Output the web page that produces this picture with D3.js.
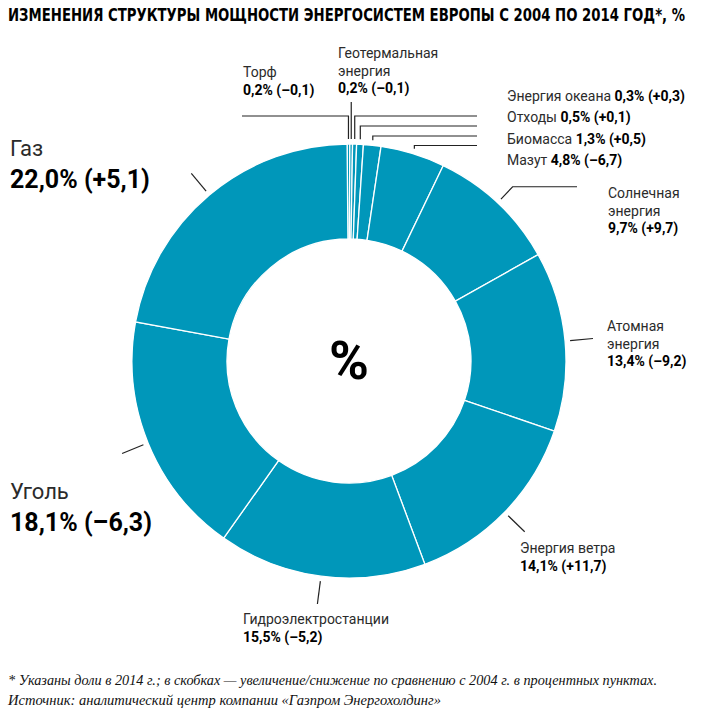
<!DOCTYPE html>
<html lang="ru">
<head>
<meta charset="UTF-8">
<script src="https://cdn.jsdelivr.net/npm/d3@7/dist/d3.min.js"></script>
<title>Структура мощности энергосистем Европы</title>
<style>
  body { margin: 0; background: #fff; }
  .name { font-family: Roboto, "Open Sans", sans-serif; fill: #2b2b2b; }
  .val { font-family: Roboto, "Open Sans", sans-serif; font-weight: bold; fill: #000; }
  .lead { fill: none; stroke: #222; stroke-width: 1.2px; }
</style>
</head>
<body>
<svg id="chart" width="713" height="714"></svg>
<script>
// данные: доли 2014 г. и изменение к 2004 г., п.п.
var sources = [
  ["Торф"], ["Геотермальная", "энергия"], ["Энергия океана"], ["Отходы"], ["Биомасса"], ["Мазут"],
  ["Солнечная", "энергия"], ["Атомная", "энергия"], ["Энергия ветра"], ["Гидроэлектростанции"],
  ["Уголь"], ["Газ"]
];
var share2014 = [0.2, 0.2, 0.3, 0.5, 1.3, 4.8, 9.7, 13.4, 14.1, 15.5, 18.1, 22.0];
var change = [-0.1, -0.1, 0.3, 0.1, 0.5, -6.7, 9.7, -9.2, 11.7, -5.2, -6.3, 5.1];

// где стоят подписи и как идут выноски
var labelLayout = [
  {x: 243, y: 77, lead: {kind: "top", y: 116, x2: 242}},
  {x: 338, y: 58.3, lead: {kind: "top", y: 102}},
  {x: 507, y: 100.5, inline: true, lead: {kind: "top", y: 116, x2: 477}},
  {x: 507, y: 122, inline: true, lead: {kind: "top", y: 126, x2: 477}},
  {x: 507, y: 143.5, inline: true, lead: {kind: "top", y: 136, x2: 477}},
  {x: 507, y: 165, inline: true, lead: {kind: "top", y: 145.5, x2: 477}},
  {x: 608, y: 198, lead: {kind: "elbow", x2: 577}},
  {x: 607, y: 331, lead: {kind: "tick"}},
  {x: 520, y: 553, lead: {kind: "tick"}},
  {x: 243, y: 624, lead: {kind: "tick"}},
  {x: 10, y: 499, big: true, lead: {kind: "tick"}},
  {x: 10, y: 156, big: true, lead: {kind: "tick"}}
];

var W = 713, H = 714,
    cx = 349, cy = 361,
    rOut = 217, rIn = 122,
    shift = -0.5 * Math.PI / 180,
    color = "#0097ba";

function num(v) { return Math.abs(v).toFixed(1).replace(".", ","); }
function valText(i) {
  var c = change[i];
  return num(share2014[i]) + "% (" + (c < 0 ? "–" : "+") + num(c) + ")";
}

var svg = d3.select("#chart");

// заголовок: узкий жирный шрифт, чуть вытянут по вертикали
svg.append("g").attr("transform", "translate(8,21) scale(1,1.13)")
  .append("text")
  .attr("x", 0).attr("y", 0)
  .attr("textLength", 677).attr("lengthAdjust", "spacingAndGlyphs")
  .style("font-family", "'DejaVu Sans Condensed', 'DejaVu Sans', sans-serif")
  .style("font-weight", "bold").style("font-size", "15px").style("fill", "#000")
  .text("ИЗМЕНЕНИЯ СТРУКТУРЫ МОЩНОСТИ ЭНЕРГОСИСТЕМ ЕВРОПЫ С 2004 ПО 2014 ГОД*, %");

var pie = d3.pie().sort(null).value(function(d) { return d; })
  .startAngle(shift).endAngle(2 * Math.PI + shift);
var arcs = pie(share2014);
var arc = d3.arc().innerRadius(rIn).outerRadius(rOut);

var g = svg.append("g").attr("transform", "translate(" + cx + "," + cy + ")");
g.selectAll("path.slice").data(arcs).enter().append("path")
  .attr("class", "slice")
  .attr("d", arc)
  .attr("fill", color)
  .attr("stroke", "#fff")
  .attr("stroke-width", 1.3);

g.append("text")
  .attr("x", 0).attr("y", 18)
  .attr("text-anchor", "middle")
  .style("font-family", "Roboto, sans-serif").style("font-weight", "bold")
  .style("font-size", "54px").style("fill", "#000")
  .text("%");

// точка на окружности радиуса r под углом a (от верха по часовой)
function pt(a, r) { return [cx + r * Math.sin(a), cy - r * Math.cos(a)]; }
var line = d3.line();

arcs.forEach(function(d, i) {
  var L = labelLayout[i], a = (d.startAngle + d.endAngle) / 2, pts;
  if (L.lead.kind == "top") {
    var p = pt(a, 222);
    pts = [p, [p[0], L.lead.y]];
    if (L.lead.x2 != null) pts.push([L.lead.x2, L.lead.y]);
  } else if (L.lead.kind == "elbow") {
    var e = pt(a, 239);
    pts = [pt(a, 222), e, [L.lead.x2, e[1]]];
  } else {
    pts = [pt(a, 222), pt(a, 245)];
  }
  svg.append("path").attr("class", "lead").attr("d", line(pts));

  var t = svg.append("text").attr("x", L.x).attr("y", L.y);
  if (L.inline) {
    t.append("tspan").attr("class", "name").style("font-size", "14px").text(sources[i][0] + " ");
    t.append("tspan").attr("class", "val").style("font-size", "14px").text(valText(i));
    return;
  }
  var fs = L.big ? 22 : 14, lh = L.big ? 32 : 17.5;
  sources[i].forEach(function(s, k) {
    t.append("tspan").attr("class", "name").attr("x", L.x).attr("y", L.y + k * lh)
      .style("font-size", fs + "px").text(s);
  });
  t.append("tspan").attr("class", "val").attr("x", L.x).attr("y", L.y + sources[i].length * lh)
    .style("font-size", (L.big ? 25 : 14) + "px").text(valText(i));
});

var foot = [
  {t: "* Указаны доли в 2014 г.; в скобках — увеличение/снижение по сравнению с 2004 г. в процентных пунктах.", y: 685, w: 649},
  {t: "Источник: аналитический центр компании «Газпром Энергохолдинг»", y: 705, w: 433}
];
svg.selectAll("text.foot").data(foot).enter().append("text")
  .attr("class", "foot")
  .attr("x", 8).attr("y", function(d) { return d.y; })
  .attr("textLength", function(d) { return d.w; })
  .attr("lengthAdjust", "spacingAndGlyphs")
  .style("font-family", "'Liberation Serif', serif").style("font-style", "italic")
  .style("font-size", "14px").style("fill", "#111")
  .text(function(d) { return d.t; });
</script>
</body>
</html>
